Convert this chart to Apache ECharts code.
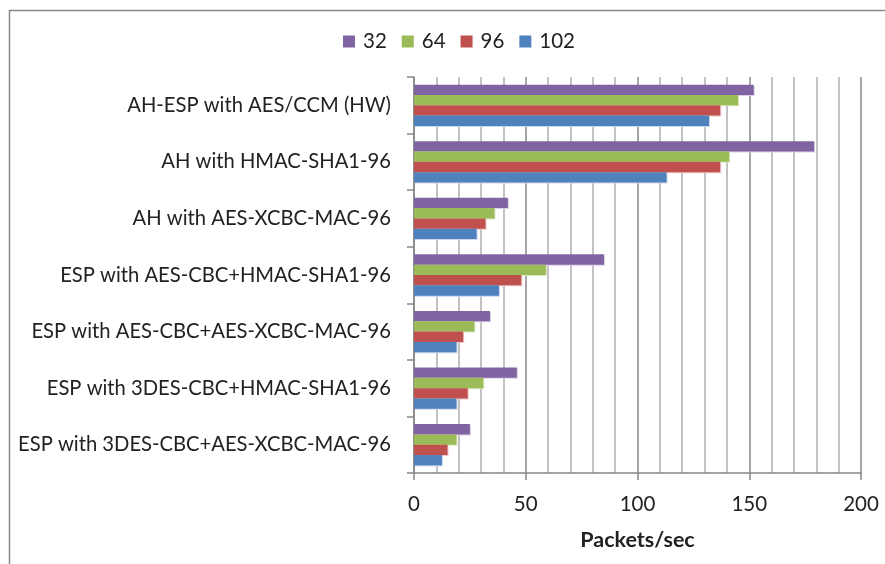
<!DOCTYPE html>
<html>
<head>
<meta charset="utf-8">
<script src="https://cdn.jsdelivr.net/npm/echarts@6/dist/echarts.min.js"></script>
<style>
  html, body { margin: 0; padding: 0; background: #fff; }
  #chart { width: 885px; height: 564px; }
</style>
</head>
<body>
<div id="chart"></div>
<script>
// IPsec configurations, listed top to bottom
const categories = [
  'AH-ESP with AES/CCM (HW)',
  'AH with HMAC-SHA1-96',
  'AH with AES-XCBC-MAC-96',
  'ESP with AES-CBC+HMAC-SHA1-96',
  'ESP with AES-CBC+AES-XCBC-MAC-96',
  'ESP with 3DES-CBC+HMAC-SHA1-96',
  'ESP with 3DES-CBC+AES-XCBC-MAC-96'
];

// Packets/sec for each packet size
const size32  = [152, 179, 42, 85, 34, 46, 25];
const size64  = [145, 141, 36, 59, 27, 31, 19];
const size96  = [137, 137, 32, 48, 22, 24, 15];
const size102 = [132, 113, 28, 38, 19, 19, 12.5];

const seriesNames = ['32', '64', '96', '102'];
const seriesData = [size32, size64, size96, size102];
const colors = ['#8064A2', '#9BBB59', '#C0504D', '#4F81BD'];
const rimColors = ['#d9cfe6', '#dbe8c4', '#ecc8c7', '#c9d8ec'];

const xTicks = { min: 0, max: 200, interval: 50 };

const FONT = 'Lato';

const chart = echarts.init(document.getElementById('chart'), null, { renderer: 'canvas' });

chart.setOption({
  backgroundColor: '#fff',
  animation: false,
  color: colors,
  textStyle: { fontFamily: FONT },
  graphic: [{
    type: 'rect',
    shape: { x: 9.5, y: 10.5, width: 900, height: 600 },
    style: { fill: 'none', stroke: '#8a8a8a', lineWidth: 1.5 },
    silent: true
  }],
  legend: {
    top: 26,
    left: 338,
    itemWidth: 12,
    itemHeight: 12,
    itemGap: 15,
    icon: 'rect',
    textStyle: { fontFamily: FONT, fontSize: 20.5, color: '#222', padding: [0, 0, 0, 3] },
    data: seriesNames
  },
  grid: { left: 414, right: 24, top: 77, bottom: 91, containLabel: false },
  xAxis: {
    type: 'value',
    min: xTicks.min,
    max: xTicks.max,
    interval: xTicks.interval,
    name: 'Packets/sec',
    nameLocation: 'middle',
    nameGap: 56,
    nameTextStyle: { fontFamily: FONT, fontSize: 21.5, fontWeight: 'bold', color: '#222' },
    axisLine: { show: true, lineStyle: { color: '#868686', width: 1.5 } },
    axisTick: { show: true, inside: false, length: 7, lineStyle: { color: '#868686', width: 1.5 } },
    axisLabel: { fontFamily: FONT, fontSize: 20.5, color: '#222', margin: 21 },
    splitLine: { show: true, lineStyle: { color: '#8a8a8a', width: 1.5 } },
    minorTick: { show: false, splitNumber: 5 },
    minorSplitLine: { show: true, lineStyle: { color: '#c2c2c2', width: 2 } }
  },
  yAxis: {
    type: 'category',
    inverse: true,
    data: categories,
    axisLine: { show: true, lineStyle: { color: '#868686', width: 1.5 } },
    axisTick: { show: true, inside: false, length: 7, lineStyle: { color: '#868686', width: 1.5 } },
    axisLabel: { fontFamily: FONT, fontSize: 20.2, color: '#222', margin: 23 }
  },
  series: seriesNames.map((name, i) => ({
    name: name,
    type: 'bar',
    data: seriesData[i],
    barGap: '0%',
    barCategoryGap: '27%',
    itemStyle: {
      color: colors[i],
      shadowColor: rimColors[i],
      shadowOffsetX: 1,
      shadowOffsetY: 1,
      shadowBlur: 0
    }
  }))
});
</script>
</body>
</html>
